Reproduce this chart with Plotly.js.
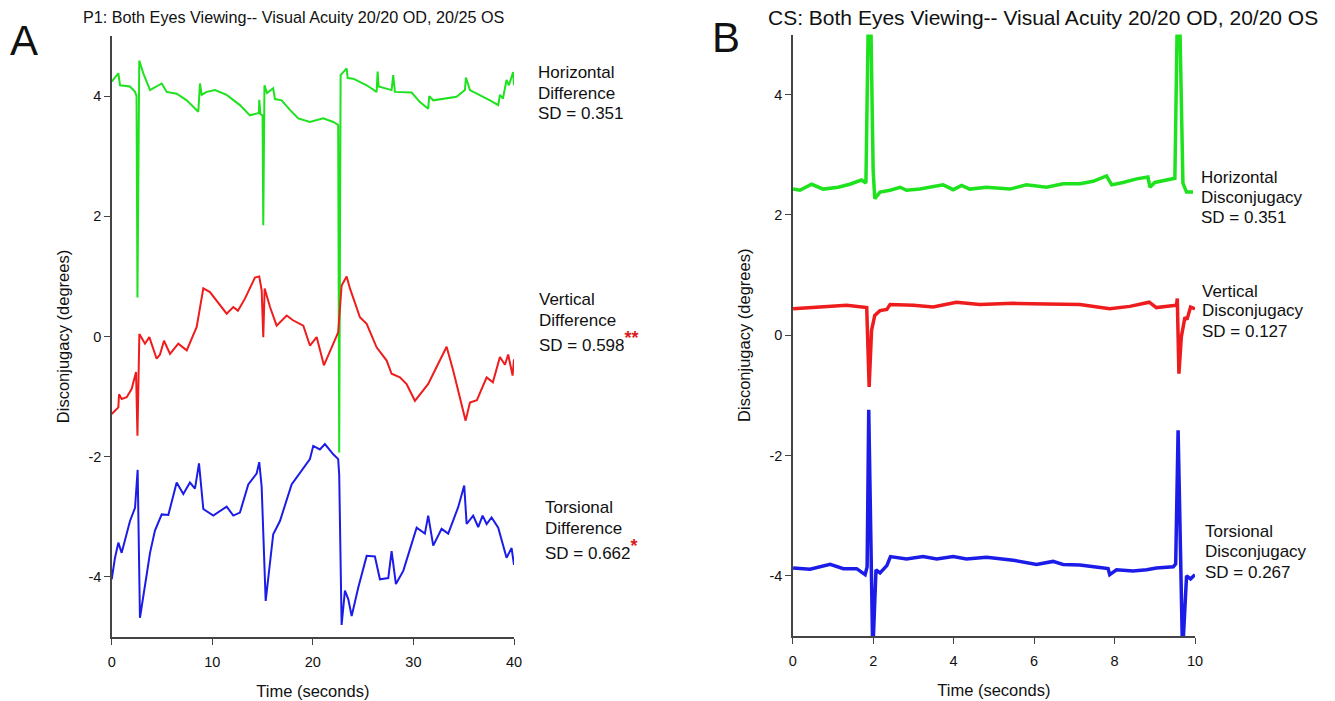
<!DOCTYPE html>
<html>
<head>
<meta charset="utf-8">
<script src="https://cdn.plot.ly/plotly-3.0.1.min.js"></script>
<style>
html,body{margin:0;padding:0;background:#fff;}
#chart{width:1335px;height:701px;}
</style>
</head>
<body>
<div id="chart"></div>
<script>
// ---------- Panel A (P1), time in seconds ----------
var aHorizX = [0,0.66,0.83,1.82,2.32,2.47,2.56,2.74,3.14,3.81,4.97,5.47,6.46,7.46,8.61,8.78,8.95,9.44,10.27,11.43,12.75,13.74,14.64,14.67,14.79,15.0,15.07,15.19,15.44,16.06,16.23,16.9,17.72,18.55,19.71,21.03,22.03,22.52,22.62,22.76,23.36,23.46,24.02,25.35,26.34,26.44,26.54,27.83,27.99,28.16,29.82,30.65,31.47,31.57,31.97,33.3,34.29,35.12,35.22,35.62,36.61,37.61,38.43,38.6,38.9,39.26,39.49,39.92,40.0];
var aHorizY = [4.24,4.38,4.18,4.16,4.07,4.0,0.65,4.59,4.38,4.1,4.21,4.07,4.04,3.93,3.74,4.21,4.02,4.07,4.1,4.02,3.85,3.68,3.72,3.94,3.7,3.68,1.85,4.18,4.05,4.13,3.95,3.93,3.77,3.63,3.57,3.63,3.57,3.52,-1.93,4.35,4.46,4.3,4.29,4.18,4.07,4.41,4.16,4.1,4.35,4.07,4.06,3.9,3.79,4.0,3.93,3.96,3.99,4.1,4.31,4.1,4.02,3.93,3.85,4.02,3.96,4.27,4.18,4.4,4.18];

var aVertX = [0,0.66,0.73,0.99,1.49,1.99,2.42,2.56,2.75,3.31,3.74,4.47,4.8,5.2,5.8,6.62,7.46,8.45,9.11,9.77,11.43,12.09,12.55,13.25,14.24,14.67,14.91,15.07,15.21,15.74,16.4,17.4,18.02,19.05,19.71,20.38,21.1,21.7,22.52,22.86,23.36,23.69,24.68,25.35,26.34,27.34,27.83,28.66,29.32,30.15,31.47,31.97,33.3,33.96,34.79,35.19,35.62,36.31,37.28,37.9,38.6,39.1,39.42,39.86,40];
var aVertY = [-1.29,-1.18,-0.96,-1.04,-1.01,-0.87,-0.59,-1.65,0.04,-0.12,-0.01,-0.37,-0.3,-0.07,-0.29,-0.12,-0.23,0.16,0.8,0.74,0.38,0.49,0.43,0.63,0.98,1.0,0.77,-0.01,0.8,0.49,0.18,0.35,0.27,0.18,-0.15,-0.01,-0.48,-0.26,0.07,0.85,1.0,0.8,0.32,0.21,-0.18,-0.4,-0.62,-0.68,-0.79,-1.07,-0.79,-0.62,-0.17,-0.57,-1.12,-1.4,-1.1,-1.06,-0.68,-0.76,-0.34,-0.47,-0.3,-0.65,-0.38];

var aTorsX = [0,0.33,0.66,0.99,1.82,2.32,2.58,2.81,3.48,3.81,4.3,4.97,5.63,6.46,7.12,7.78,8.28,8.68,9.11,10.1,11.43,12.09,12.75,13.58,14.41,14.67,14.91,15.31,16.06,16.73,17.89,18.72,19.71,20.04,20.7,21.2,22.03,22.52,22.62,22.86,23.19,23.52,23.86,24.51,25.35,26.17,26.67,27.5,27.83,28.26,28.99,30.32,31.14,31.47,31.97,32.8,33.46,34.45,35.05,35.29,35.94,36.44,36.88,37.28,37.77,38.43,38.77,39.26,39.76,40];
var aTorsY = [-4.04,-3.68,-3.43,-3.6,-3.07,-2.85,-2.22,-4.68,-3.96,-3.6,-3.23,-2.96,-2.97,-2.43,-2.62,-2.43,-2.53,-2.11,-2.87,-2.98,-2.83,-2.98,-2.93,-2.46,-2.28,-2.09,-2.5,-4.4,-3.29,-3.07,-2.46,-2.26,-2.04,-1.82,-1.88,-1.79,-1.96,-2.04,-2.3,-4.8,-4.23,-4.37,-4.65,-4.18,-3.65,-3.66,-4.04,-4.02,-3.57,-4.12,-3.9,-3.18,-3.28,-2.98,-3.48,-3.2,-3.28,-2.84,-2.48,-3.12,-2.98,-3.17,-2.98,-3.12,-3.01,-3.18,-3.4,-3.68,-3.52,-3.8];

// ---------- Panel B (CS), time in seconds ----------
var bHorizX = [0.01,0.18,0.47,0.76,1.13,1.42,1.71,1.82,1.88,1.94,2.0,2.04,2.17,2.42,2.67,2.83,3.16,3.41,3.74,3.99,4.2,4.4,4.82,5.4,5.81,6.31,6.72,7.14,7.47,7.8,7.93,8.21,8.55,8.83,8.88,9.0,9.29,9.5,9.56,9.62,9.7,9.79,9.95];
var bHorizY = [2.43,2.41,2.51,2.43,2.46,2.51,2.58,2.53,5.3,5.3,2.74,2.27,2.38,2.41,2.46,2.41,2.43,2.46,2.5,2.42,2.49,2.43,2.46,2.43,2.5,2.46,2.52,2.52,2.56,2.65,2.5,2.54,2.6,2.63,2.46,2.54,2.58,2.61,5.3,5.3,2.53,2.38,2.38];

var bVertX = [0.01,0.51,1.34,1.84,1.9,1.96,2.04,2.17,2.34,2.42,3.0,3.49,4.07,4.65,5.48,6.31,7.14,7.88,8.38,8.86,9.04,9.54,9.56,9.6,9.66,9.75,9.8,9.89,10.0];
var bVertY = [0.44,0.46,0.5,0.46,-0.86,0.08,0.33,0.41,0.43,0.51,0.5,0.47,0.55,0.51,0.53,0.52,0.51,0.44,0.48,0.55,0.46,0.5,0.61,-0.64,-0.03,0.3,0.26,0.47,0.44];

var bTorsX = [0.01,0.43,0.93,1.26,1.59,1.8,1.85,1.89,1.99,2.07,2.17,2.34,2.43,2.83,3.24,3.58,3.99,4.32,4.82,5.48,6.06,6.47,6.72,7.14,7.63,7.84,7.88,8.05,8.46,8.8,9.04,9.46,9.52,9.58,9.69,9.79,9.89,10.0];
var bTorsY = [-3.87,-3.89,-3.81,-3.88,-3.88,-3.98,-3.85,-1.24,-5.3,-3.9,-3.95,-3.83,-3.68,-3.72,-3.68,-3.72,-3.68,-3.72,-3.69,-3.74,-3.81,-3.76,-3.81,-3.82,-3.86,-3.88,-3.98,-3.9,-3.92,-3.9,-3.87,-3.85,-3.8,-1.58,-5.3,-4.0,-4.05,-3.98];

var yTicks = [-4,-2,0,2,4];
var aXTicks = [0,10,20,30,40];
var bXTicks = [0,2,4,6,8,10];

var GREEN = '#1de21d', RED = '#ee1c1c', BLUE = '#1c1ce8';
var FONT = 'Liberation Sans, Arial, Helvetica, sans-serif';

function tr(x, y, col, w, xa, ya) {
  return {x: x, y: y, type: 'scatter', mode: 'lines', xaxis: xa, yaxis: ya,
          line: {color: col, width: w, shape: 'linear'}, hoverinfo: 'skip', showlegend: false};
}

var data = [
  tr(aHorizX, aHorizY, GREEN, 2, 'x', 'y'),
  tr(aVertX, aVertY, RED, 2, 'x', 'y'),
  tr(aTorsX, aTorsY, BLUE, 2, 'x', 'y'),
  tr(bHorizX, bHorizY, GREEN, 3.5, 'x2', 'y2'),
  tr(bVertX, bVertY, RED, 3.5, 'x2', 'y2'),
  tr(bTorsX, bTorsY, BLUE, 3.5, 'x2', 'y2')
];

function xax(domain, range, ticks) {
  return {domain: domain, range: range, tickvals: ticks, ticktext: ticks.map(String),
    showline: true, linecolor: '#444', linewidth: 1.5, ticks: 'outside', ticklen: 6, tickcolor: '#444',
    ticklabelstandoff: 5,
    showgrid: false, zeroline: false, tickfont: {family: FONT, size: 14.5, color: '#111'},
    title: {text: 'Time (seconds)', font: {family: FONT, size: 16.5, color: '#111'}, standoff: 16},
    fixedrange: true};
}
function yax(domain, anchor) {
  return {domain: domain, range: [-5, 5], tickvals: yTicks, ticktext: yTicks.map(String), anchor: anchor,
    showline: true, linecolor: '#444', linewidth: 1.5, ticks: 'outside', ticklen: 6, tickcolor: '#444',
    showgrid: false, zeroline: false, tickfont: {family: FONT, size: 14.5, color: '#111'},
    title: {text: 'Disconjugacy (degrees)', font: {family: FONT, size: 16.5, color: '#111'}, standoff: 14},
    fixedrange: true};
}

function px(x) { return x / 1335; }
function py(y) { return 1 - y / 701; }
function line(xp, yc, txt, size) {
  return {xref: 'paper', yref: 'paper', x: px(xp - 2), y: py(yc), xanchor: 'left', yanchor: 'middle',
    text: txt, showarrow: false, align: 'left', font: {family: FONT, size: size || 17, color: '#111'}};
}
function star(s) { return '<sup><span style="color:#d81e1e;font-size:18px;font-weight:bold">' + s + '</span></sup>'; }

var annotations = [
  line(10, 40, 'A', 42),
  line(712, 38, 'B', 42),
  line(83, 17, 'P1: Both Eyes Viewing-- Visual Acuity 20/20 OD, 20/25 OS', 16.2),
  line(768, 17, 'CS: Both Eyes Viewing-- Visual Acuity 20/20 OD, 20/20 OS', 21),

  line(538, 73, 'Horizontal'), line(538, 93, 'Difference'), line(538, 113, 'SD = 0.351'),
  line(539, 300, 'Vertical'), line(539, 320, 'Difference'), line(539, 341, 'SD = 0.598' + star('**')),
  line(545, 507, 'Torsional'), line(545, 528, 'Difference'), line(545, 549, 'SD = 0.662' + star('*')),

  line(1201, 177, 'Horizontal'), line(1201, 197, 'Disconjugacy'), line(1201, 217, 'SD = 0.351'),
  line(1202, 291, 'Vertical'), line(1202, 311, 'Disconjugacy'), line(1202, 331, 'SD = 0.127'),
  line(1205, 531, 'Torsional'), line(1205, 551, 'Disconjugacy'), line(1205, 572, 'SD = 0.267')
];

var layout = {
  width: 1335, height: 701,
  margin: {l: 0, r: 0, t: 0, b: 0, pad: 0},
  paper_bgcolor: '#fff', plot_bgcolor: '#fff',
  showlegend: false,
  xaxis: xax([111.7/1335, 514/1335], [0, 40], aXTicks),
  yaxis: yax([64/701, 665/701], 'x'),
  xaxis2: xax([792.7/1335, 1195/1335], [0, 10], bXTicks),
  yaxis2: yax([65/701, 666.5/701], 'x2'),
  annotations: annotations
};
layout.xaxis.anchor = 'y';
layout.xaxis2.anchor = 'y2';

Plotly.newPlot('chart', data, layout, {staticPlot: true, displayModeBar: false});
</script>
</body>
</html>
